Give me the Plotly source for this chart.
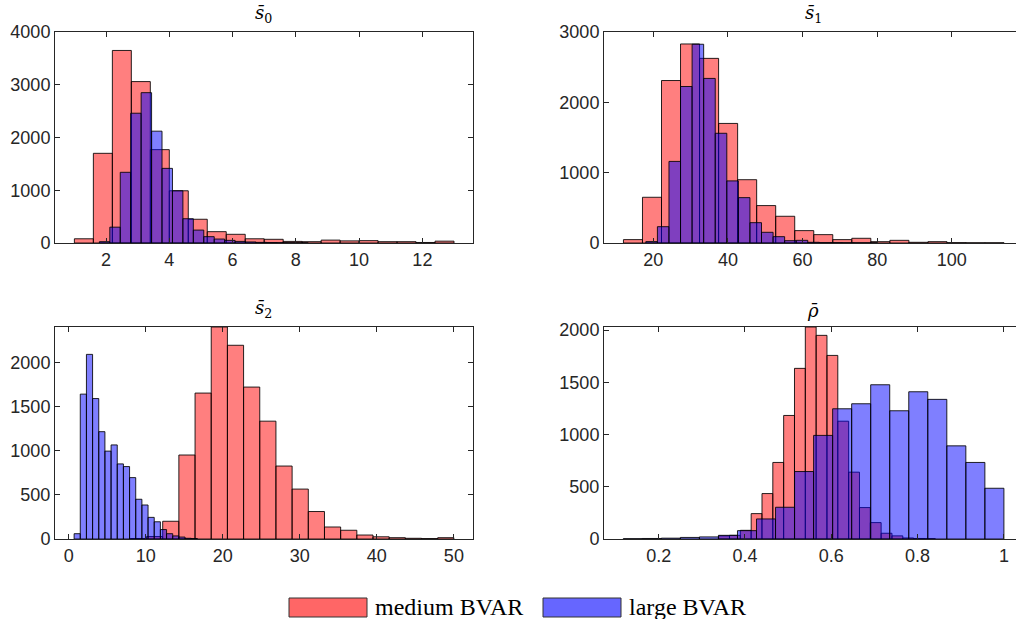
import plotly.graph_objects as go

# ---------------- data (histogram bins: first edge, bin width, counts) ----------------
# panel s0
s0_medium_start = 1.0
s0_medium_width = 0.6
s0_medium_counts = [80, 1700, 3650, 3060, 1770, 990, 450, 215, 165, 80,
                    70, 30, 25, 55, 40, 45, 25, 25, 10, 35]
s0_large_start = 1.79
s0_large_width = 0.33
s0_large_counts = [25, 300, 1340, 2460, 2850, 2120, 1415, 990, 460, 245,
                   120, 75, 50, 30, 20, 12, 8, 5, 3, 2]

# panel s1
s1_medium_start = 12.0
s1_medium_width = 5.1
s1_medium_counts = [48, 650, 2310, 2830, 2625, 1700, 900, 532, 380, 176,
                    119, 48, 67, 19, 38, 10, 19, 5, 3, 3]
s1_large_start = 18.0
s1_large_width = 3.1
s1_large_counts = [20, 232, 1160, 2225, 2826, 2340, 1560, 883, 645, 289,
                   152, 90, 33, 38, 10, 5, 5, 3, 2, 2]

# panel s2
s2_medium_start = 8.0
s2_medium_width = 2.1
s2_medium_counts = [5, 28, 201, 951, 1652, 2400, 2193, 1720, 1334, 826,
                    565, 311, 136, 99, 45, 25, 15, 8, 5, 15]
s2_large_start = 0.7
s2_large_width = 0.8
s2_large_counts = [60, 1640, 2090, 1590, 1215, 995, 1065, 850, 820, 695,
                   450, 385, 245, 195, 107, 60, 35, 22, 8, 5]

# panel rho
rho_medium_start = 0.339
rho_medium_width = 0.0251
rho_medium_counts = [30, 35, 83, 243, 435, 733, 1183, 1634, 2030, 1950,
                     1758, 1128, 640, 301, 157, 55, 30, 10, 5, 3]
rho_large_start = 0.118
rho_large_width = 0.0441
rho_large_counts = [3, 5, 8, 15, 20, 35, 80, 192, 304, 646,
                    992, 1247, 1295, 1477, 1228, 1410, 1337, 892, 733, 486]

panel_titles = ["<i>s̄</i><sub>0</sub>", "<i>s̄</i><sub>1</sub>",
                "<i>s̄</i><sub>2</sub>", "<i>ρ̄</i>"]
series_names = ["medium BVAR", "large BVAR"]

s0_xticks = [2, 4, 6, 8, 10, 12]
s0_yticks = [0, 1000, 2000, 3000, 4000]
s1_xticks = [20, 40, 60, 80, 100]
s1_yticks = [0, 1000, 2000, 3000]
s2_xticks = [0, 10, 20, 30, 40, 50]
s2_yticks = [0, 500, 1000, 1500, 2000]
rho_xticks = [0.2, 0.4, 0.6, 0.8, 1.0]
rho_xticklabels = ["0.2", "0.4", "0.6", "0.8", "1"]
rho_yticks = [0, 500, 1000, 1500, 2000]

# ---------------- figure ----------------
W, H = 1016, 619
RED = "rgba(255,0,0,0.5)"
BLUE = "rgba(0,0,255,0.5)"
EDGE = "rgba(0,0,0,0.85)"
AX = "#262626"

panels = [
    dict(med=(s0_medium_start, s0_medium_width, s0_medium_counts),
         lrg=(s0_large_start, s0_large_width, s0_large_counts),
         xr=[0.387, 13.6], yr=[0, 4000], xt=s0_xticks, xtl=None, yt=s0_yticks,
         px=(55, 473), py=(32, 243), right=False, tx=263),
    dict(med=(s1_medium_start, s1_medium_width, s1_medium_counts),
         lrg=(s1_large_start, s1_large_width, s1_large_counts),
         xr=[6.79, 117.2], yr=[0, 3000], xt=s1_xticks, xtl=None, yt=s1_yticks,
         px=(604, 1016), py=(32, 243), right=True, tx=813),
    dict(med=(s2_medium_start, s2_medium_width, s2_medium_counts),
         lrg=(s2_large_start, s2_large_width, s2_large_counts),
         xr=[-1.78, 52.48], yr=[0, 2400], xt=s2_xticks, xtl=None, yt=s2_yticks,
         px=(55, 473), py=(327, 539), right=False, tx=263),
    dict(med=(rho_medium_start, rho_medium_width, rho_medium_counts),
         lrg=(rho_large_start, rho_large_width, rho_large_counts),
         xr=[0.0733, 1.028], yr=[0, 2030], xt=rho_xticks, xtl=rho_xticklabels,
         yt=rho_yticks, px=(604, 1016), py=(327, 539), right=True, tx=813),
]

fig = go.Figure()
layout = dict()
annotations = []
shapes = []

for i, p in enumerate(panels):
    k = "" if i == 0 else str(i + 1)
    for (start, width, counts), color in ((p["med"], RED), (p["lrg"], BLUE)):
        centers = [start + (j + 0.5) * width for j in range(len(counts))]
        fig.add_trace(go.Bar(
            x=centers, y=counts, width=width,
            marker=dict(color=color, line=dict(color=EDGE, width=1)),
            xaxis="x" + k, yaxis="y" + k, showlegend=False,
        ))
    axis_common = dict(
        showline=True, linecolor=AX, linewidth=1, ticks="inside", ticklen=5,
        tickcolor=AX, tickwidth=1, showgrid=False, zeroline=False, automargin=False,
        tickfont=dict(family="Liberation Sans, Arial, sans-serif", size=18, color=AX),
    )
    layout["xaxis" + k] = dict(
        axis_common, domain=[p["px"][0] / W, p["px"][1] / W], range=p["xr"],
        tickvals=p["xt"], ticktext=p["xtl"] if p["xtl"] else [str(v) for v in p["xt"]],
        anchor="y" + k, mirror="ticks",
    )
    layout["yaxis" + k] = dict(
        axis_common, domain=[1 - p["py"][1] / H, 1 - p["py"][0] / H], range=p["yr"],
        tickvals=p["yt"], ticktext=[str(v) for v in p["yt"]],
        anchor="x" + k, mirror=False if p["right"] else "ticks",
    )
    annotations.append(dict(
        text=panel_titles[i], xref="paper", yref="paper",
        x=p["tx"] / W, y=1 - (p["py"][0] - 4) / H, xanchor="center", yanchor="bottom",
        showarrow=False,
        font=dict(family="DejaVu Serif, Liberation Serif, serif", size=18, color="#000"),
    ))

# legend (drawn below the panels)
legend_items = [(series_names[0], "#FF6666", 289, 373), (series_names[1], "#6666FF", 543, 627)]
for name, fill, x0, tx in legend_items:
    shapes.append(dict(type="rect", xref="paper", yref="paper",
                       x0=x0 / W, x1=(x0 + 78) / W, y0=1 - 617 / H, y1=1 - 598 / H,
                       fillcolor=fill, line=dict(color="#333333", width=1)))
    annotations.append(dict(
        text=name, xref="paper", yref="paper", x=tx / W, y=1 - 607 / H,
        xanchor="left", yanchor="middle", showarrow=False,
        font=dict(family="Liberation Serif, Times New Roman, serif", size=24, color="#000"),
    ))

fig.update_layout(
    **layout,
    barmode="overlay",
    width=W, height=H,
    margin=dict(l=0, r=0, t=0, b=0, pad=0, autoexpand=False),
    paper_bgcolor="white", plot_bgcolor="white",
    annotations=annotations, shapes=shapes,
    showlegend=False,
)

fig.write_html(
    "out.html",
    config={"displayModeBar": False},
    post_script="document.body.style.margin='0';document.body.style.overflow='hidden';",
)
